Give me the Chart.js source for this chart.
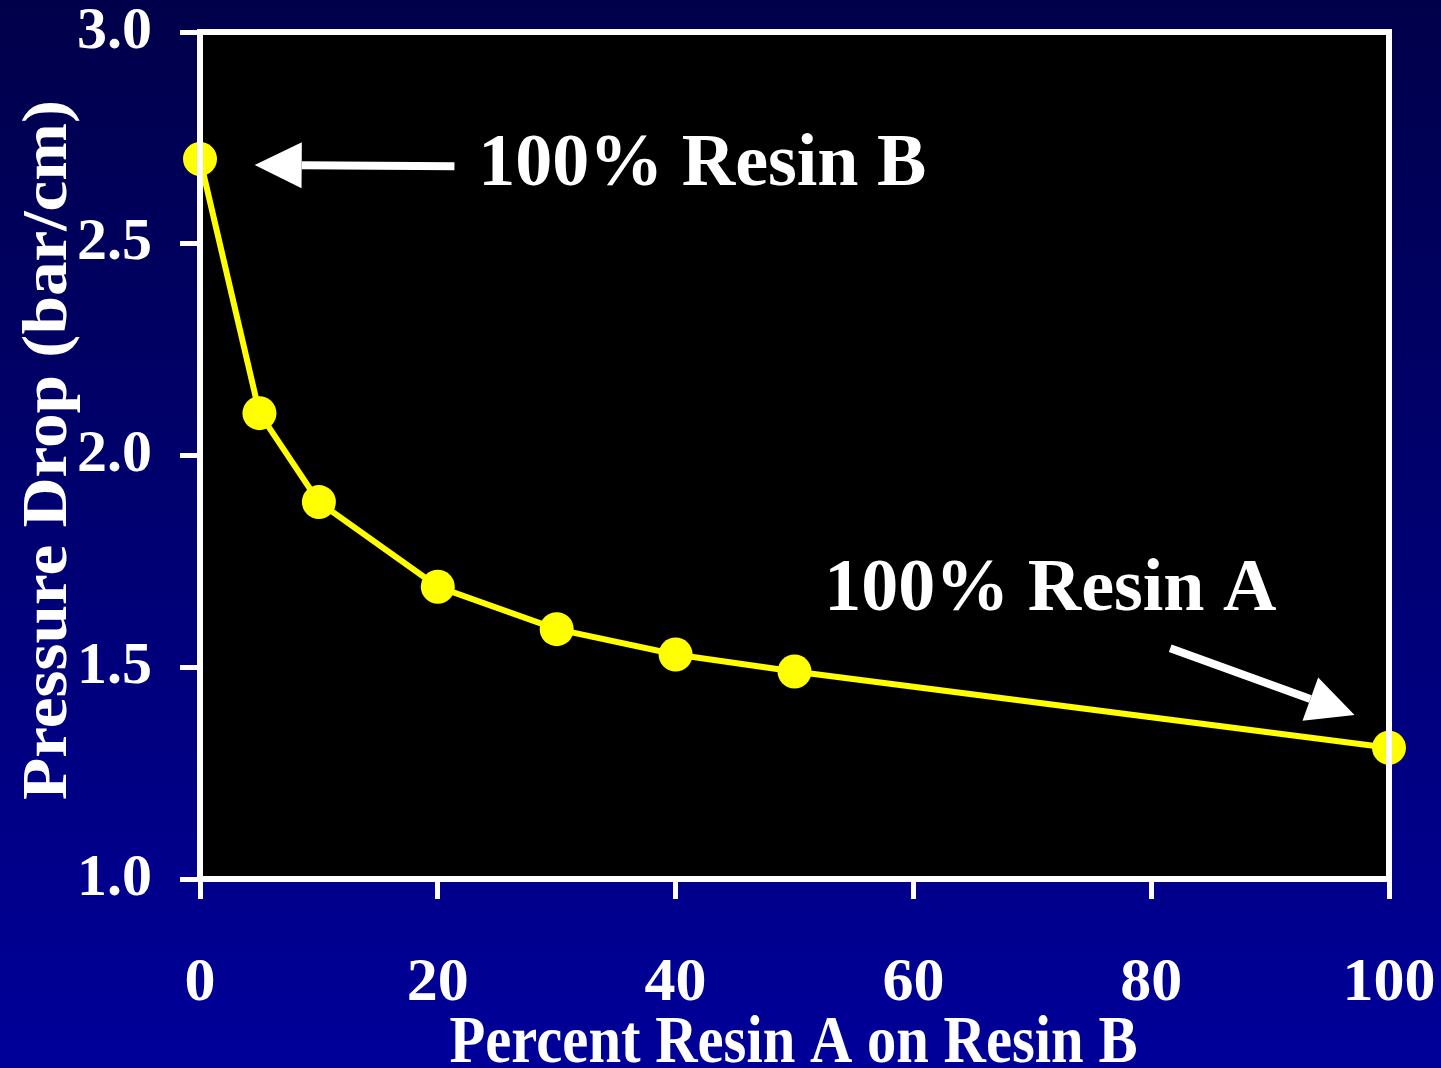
<!DOCTYPE html>
<html>
<head>
<meta charset="utf-8">
<script src="https://cdn.jsdelivr.net/npm/chart.js@4.4.1/dist/chart.umd.min.js"></script>
<style>
  html, body { margin: 0; padding: 0; }
  body { width: 1441px; height: 1068px; background: linear-gradient(#00004a, #000099); overflow: hidden; }
  #wrap { width: 1441px; height: 1068px; }
</style>
</head>
<body>
<div id="wrap"><canvas id="chart"></canvas></div>
<script>
// données
const percentA = [0, 5, 10, 20, 30, 40, 50, 100];
const pressureDrop = [2.70, 2.10, 1.89, 1.69, 1.59, 1.53, 1.49, 1.31];
const xTicks = [0, 20, 40, 60, 80, 100];
const yTicks = [1.0, 1.5, 2.0, 2.5, 3.0];

const SERIF = "'Liberation Serif', 'Times New Roman', serif";

// annotations (flèches + textes) en coordonnées de données
const notes = [
  { text: "100% Resin B", tx: 23.4, ty: 2.639, from: [21.4, 2.683], to: [4.6, 2.686] },
  { text: "100% Resin A", tx: 52.5, ty: 1.635, from: [81.6, 1.545], to: [97.1, 1.387] }
];

// fond noir + cadre blanc de la zone de tracé
const framePlugin = {
  id: "frame",
  beforeDraw(chart) {
    const { ctx, chartArea: a } = chart;
    ctx.save();
    ctx.fillStyle = "#000000";
    ctx.fillRect(a.left, a.top, a.right - a.left, a.bottom - a.top);
    ctx.restore();
  },
  afterDraw(chart) {
    const { ctx, chartArea: a } = chart;
    ctx.save();
    ctx.strokeStyle = "#ffffff";
    ctx.lineWidth = 6;
    ctx.strokeRect(a.left, a.top, a.right - a.left, a.bottom - a.top);
    ctx.restore();
  }
};

// flèches, textes et titres d'axes
const notesPlugin = {
  id: "notes",
  afterDatasetsDraw(chart) {
    const { ctx, scales: { x, y } } = chart;
    ctx.save();
    ctx.fillStyle = "#ffffff";
    ctx.strokeStyle = "#ffffff";
    notes.forEach(n => {
      const x1 = x.getPixelForValue(n.from[0]), y1 = y.getPixelForValue(n.from[1]);
      const x2 = x.getPixelForValue(n.to[0]), y2 = y.getPixelForValue(n.to[1]);
      const ang = Math.atan2(y2 - y1, x2 - x1);
      const head = 47, half = 23;
      const bx = x2 - head * Math.cos(ang), by = y2 - head * Math.sin(ang);
      ctx.lineWidth = 8;
      ctx.beginPath();
      ctx.moveTo(x1, y1);
      ctx.lineTo(bx, by);
      ctx.stroke();
      ctx.beginPath();
      ctx.moveTo(x2, y2);
      ctx.lineTo(bx + half * Math.sin(ang), by - half * Math.cos(ang));
      ctx.lineTo(bx - half * Math.sin(ang), by + half * Math.cos(ang));
      ctx.closePath();
      ctx.fill();

      ctx.font = "bold 74px " + SERIF;
      ctx.textAlign = "left";
      ctx.textBaseline = "alphabetic";
      ctx.fillText(n.text, x.getPixelForValue(n.tx), y.getPixelForValue(n.ty));
    });
    ctx.restore();
  },
  afterDraw(chart) {
    const { ctx, chartArea: a } = chart;
    ctx.save();
    ctx.fillStyle = "#ffffff";
    ctx.textAlign = "center";
    ctx.textBaseline = "alphabetic";

    // titre X (police condensée)
    ctx.font = "bold 68px " + SERIF;
    const xt = "Percent Resin A on Resin B";
    const sx = 688 / ctx.measureText(xt).width;
    ctx.save();
    ctx.translate((a.left + a.right) / 2 - 1, 1062);
    ctx.scale(sx, 1);
    ctx.fillText(xt, 0, 0);
    ctx.restore();

    // titre Y (vertical)
    ctx.font = "bold 64px " + SERIF;
    const yt = "Pressure Drop (bar/cm)";
    const sy = 700 / ctx.measureText(yt).width;
    ctx.save();
    ctx.translate(66, 450);
    ctx.rotate(-Math.PI / 2);
    ctx.scale(sy, 1);
    ctx.fillText(yt, 0, 0);
    ctx.restore();
    ctx.restore();
  }
};

function fixX(scale) { scale.height = 189; scale.paddingLeft = 0; scale.paddingRight = 0; }
function fixY(scale) { scale.width = 200; scale.paddingTop = 0; scale.paddingBottom = 0; }

new Chart(document.getElementById("chart"), {
  type: "line",
  data: {
    datasets: [{
      data: percentA.map((v, i) => ({ x: v, y: pressureDrop[i] })),
      borderColor: "#ffff00",
      backgroundColor: "#ffff00",
      borderWidth: 6,
      pointRadius: 17,
      pointBorderWidth: 0,
      tension: 0,
      clip: false
    }]
  },
  options: {
    responsive: true,
    maintainAspectRatio: false,
    animation: false,
    layout: { padding: { top: 32, right: 52, left: 0, bottom: 0 } },
    plugins: { legend: { display: false }, tooltip: { enabled: false } },
    scales: {
      x: {
        type: "linear",
        min: 0,
        max: 100,
        afterFit: fixX,
        afterBuildTicks: s => { s.ticks = xTicks.map(v => ({ value: v })); },
        border: { display: false },
        grid: { drawOnChartArea: false, drawTicks: true, tickLength: 20, color: "#ffffff", lineWidth: 5 },
        ticks: { color: "#ffffff", padding: 48, maxRotation: 0, font: { family: SERIF, weight: "bold", size: 62 } }
      },
      y: {
        type: "linear",
        min: 1,
        max: 3,
        afterFit: fixY,
        afterBuildTicks: s => { s.ticks = yTicks.map(v => ({ value: v })); },
        border: { display: false },
        grid: { drawOnChartArea: false, drawTicks: true, tickLength: 20, color: "#ffffff", lineWidth: 5 },
        ticks: { color: "#ffffff", padding: 28, callback: v => v.toFixed(1), font: { family: SERIF, weight: "bold", size: 60 } }
      }
    }
  },
  plugins: [framePlugin, notesPlugin]
});
</script>
</body>
</html>
